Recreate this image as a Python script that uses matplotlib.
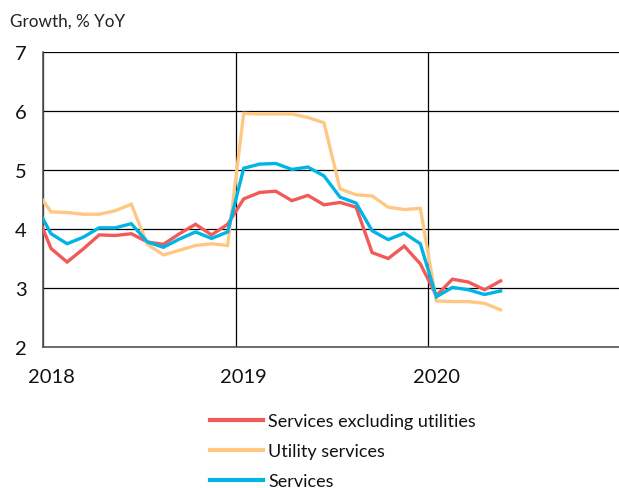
import matplotlib
matplotlib.use("Agg")
import matplotlib.pyplot as plt
import numpy as np

plt.rcParams['font.family'] = ['Lato', 'DejaVu Sans']

# Monthly data, Dec 2017 .. May 2020 (values plotted at mid-month)
months = ["2017-12",
          "2018-01", "2018-02", "2018-03", "2018-04", "2018-05", "2018-06",
          "2018-07", "2018-08", "2018-09", "2018-10", "2018-11", "2018-12",
          "2019-01", "2019-02", "2019-03", "2019-04", "2019-05", "2019-06",
          "2019-07", "2019-08", "2019-09", "2019-10", "2019-11", "2019-12",
          "2020-01", "2020-02", "2020-03", "2020-04", "2020-05"]

services_excl_utilities = [4.33,
                           3.67, 3.44, 3.66, 3.90, 3.89, 3.92,
                           3.78, 3.74, 3.92, 4.08, 3.90, 4.08,
                           4.51, 4.62, 4.64, 4.48, 4.57, 4.41,
                           4.45, 4.37, 3.60, 3.50, 3.71, 3.41,
                           2.87, 3.15, 3.10, 2.97, 3.12]

utility_services = [4.67,
                    4.29, 4.28, 4.25, 4.25, 4.31, 4.42,
                    3.74, 3.56, 3.64, 3.72, 3.75, 3.72,
                    5.96, 5.95, 5.95, 5.95, 5.89, 5.80,
                    4.68, 4.58, 4.56, 4.37, 4.33, 4.35,
                    2.78, 2.77, 2.77, 2.74, 2.63]

services = [4.42,
            3.92, 3.75, 3.86, 4.02, 4.02, 4.09,
            3.78, 3.69, 3.83, 3.95, 3.84, 3.95,
            5.03, 5.10, 5.11, 5.01, 5.05, 4.90,
            4.54, 4.44, 3.97, 3.82, 3.93, 3.75,
            2.85, 3.01, 2.97, 2.89, 2.95]

series_labels = ["Services excluding utilities", "Utility services", "Services"]
year_labels = ["2018", "2019", "2020"]
y_ticks = [2, 3, 4, 5, 6, 7]

# decimal-year positions at mid-month
x = np.array([int(m[:4]) + (int(m[5:]) - 0.5) / 12 for m in months])

fig = plt.figure(figsize=(6.19, 4.89), dpi=100)
W, H = 619, 489
left, right, top, bottom = 43, 621, 53, 348
ax = fig.add_axes([left / W, 1 - bottom / H, (right - left) / W, (bottom - top) / H])

colors = ["#F25A5A", "#FFC882", "#00B5E6"]
for vals, lab, c in zip([services_excl_utilities, utility_services, services], series_labels, colors):
    ax.plot(x, vals, color=c, lw=2.4, label=lab, solid_joinstyle='miter', zorder=3)

ax.set_xlim(2018, 2021)
ax.set_ylim(2, 7)

# gridlines at year boundaries (minor), labels at mid-January (major)
years = [int(y) for y in year_labels]
ax.set_xticks([y + 0.5 / 12 for y in years])
ax.set_xticklabels(year_labels)
ax.set_xticks([y for y in years] + [2021], minor=True)
ax.set_yticks(y_ticks)
ax.set_yticklabels([str(t) for t in y_ticks])

ax.grid(False)
ax.grid(True, which='minor', axis='x', color='black', lw=0.9)
ax.grid(True, which='major', axis='y', color='black', lw=0.9)
ax.tick_params(which='both', length=0)
ax.tick_params(axis='y', labelsize=14.5, colors='#111111')
ax.tick_params(axis='x', pad=15, labelsize=14.5, colors='#111111')
for lbl in ax.get_yticklabels():
    lbl.set_horizontalalignment('left')
ax.tick_params(axis='y', pad=20)

for s in ['top', 'right']:
    ax.spines[s].set_visible(False)
ax.spines['left'].set_color('#555555')
ax.spines['bottom'].set_color('#555555')
ax.spines['left'].set_linewidth(1.2)
ax.spines['bottom'].set_linewidth(1.2)

fig.text(10 / W, 1 - 27 / H, "Growth, % YoY", fontsize=12.3, color='#222222', va='baseline', ha='left')

leg = fig.legend(loc='upper left', bbox_to_anchor=(203 / W, 1 - 407 / H), frameon=False,
                 fontsize=13, handlelength=2.95, handletextpad=0.25, labelspacing=0.78,
                 borderaxespad=0, borderpad=0.4)
for line in leg.get_lines():
    line.set_linewidth(3)
for t in leg.get_texts():
    t.set_color('#111111')

fig.savefig("out.png", dpi=100)
